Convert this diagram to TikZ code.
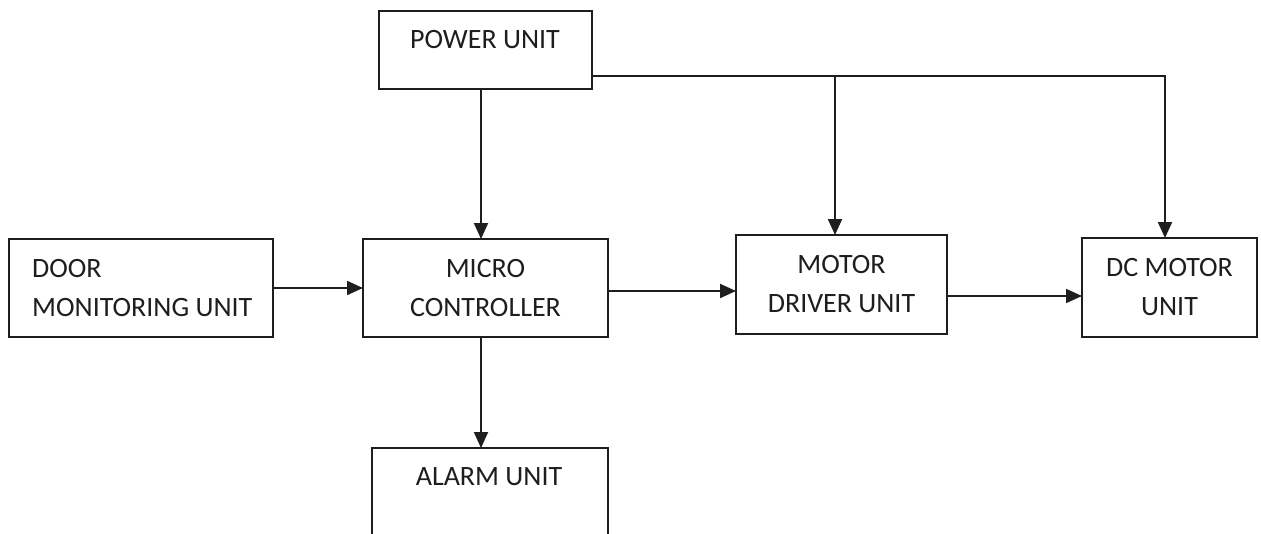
\documentclass[tikz,border=0pt]{standalone}
\usepackage{fontspec}
\setmainfont{Carlito}
\usetikzlibrary{arrows.meta,calc}
\definecolor{ink}{HTML}{1E1E1E}
\tikzset{
  box/.style={draw=ink, line width=2pt, rectangle, inner sep=0pt, outer sep=0pt},
  txt/.style={text=ink, font=\fontsize{28}{39}\selectfont, align=center, inner sep=0pt},
  arr/.style={draw=ink, line width=2pt, -{Triangle[length=16pt,width=14pt]}},
  ln/.style={draw=ink, line width=2pt}
}
\begin{document}
\begin{tikzpicture}[x=1pt,y=-1pt]
\useasboundingbox (0,0) rectangle (1261,533);
\clip (0,0) rectangle (1261,533);
\fill[white] (0,0) rectangle (1261,533);
% boxes
\node[box, minimum width=213pt, minimum height=78pt] (power) at (485.5,50) {};
\node[txt] (powert) at (485,40) {POWER UNIT};
\node[box, minimum width=264pt, minimum height=98pt] (door) at (141,288) {};
\node[txt, anchor=west, align=left] (doort) at (32,288) {DOOR\\MONITORING UNIT};
\node[box, txt, minimum width=245pt, minimum height=98pt] (micro) at (485.5,288) {MICRO\\CONTROLLER};
\node[box, txt, minimum width=211pt, minimum height=99pt] (motor) at (841.5,284.5) {MOTOR\\DRIVER UNIT};
\node[box, txt, minimum width=175pt, minimum height=99pt] (dc) at (1169.5,287.5) {DC MOTOR\\UNIT};
\node[box, minimum width=236pt, minimum height=120pt] (alarm) at (490,508) {};
\node[txt] (alarmt) at (489,477) {ALARM UNIT};
% connectors
\draw[arr] ([xshift=-4.5pt]power.south) -- ([xshift=-4.5pt]micro.north);
\coordinate (j) at (835,76);
\draw[arr] ([yshift=-26pt]power.east) -| ([xshift=-4.5pt]dc.north);
\draw[arr] (j) -- ([xshift=-6.5pt]motor.north);
\draw[arr] (door.east) -- (micro.west);
\draw[arr] ([yshift=-3pt]micro.east) -- ([yshift=-3pt]micro.east -| motor.west);
\draw[arr] ([yshift=-11.5pt]motor.east) -- ([yshift=-11.5pt]motor.east -| dc.west);
\draw[arr] ([xshift=-4.5pt]micro.south) -- ([xshift=-4.5pt]micro.south |- alarm.north);
\end{tikzpicture}
\end{document}
